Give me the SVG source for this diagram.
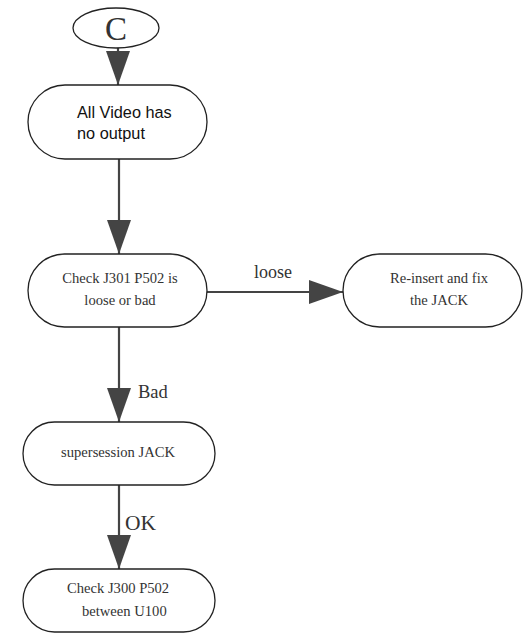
<svg xmlns="http://www.w3.org/2000/svg" width="524" height="634" viewBox="0 0 524 634">
<style>
.node{fill:#fff;stroke:#222;stroke-width:1.3}
.edge{stroke:#444;stroke-width:2.2;fill:none}
.serif{font-family:"Liberation Serif","Times New Roman",serif;fill:#333}
.sans{font-family:"Liberation Sans",Arial,sans-serif;fill:#111}
</style>
<defs>
<marker id="ah" markerUnits="userSpaceOnUse" markerWidth="34" markerHeight="24" viewBox="0 0 34 24" refX="34" refY="12" orient="auto">
<path d="M0,0 L34,12 L0,24 Z" fill="#444"/>
</marker>
</defs>
<rect width="524" height="634" fill="#fff"/>
<g id="connectors">
<line class="edge" x1="118" y1="48" x2="118" y2="85" marker-end="url(#ah)"/>
<line class="edge" x1="119" y1="159" x2="119" y2="254" marker-end="url(#ah)"/>
<line class="edge" x1="207" y1="292" x2="343" y2="292" marker-end="url(#ah)"/>
<line class="edge" x1="119" y1="327" x2="119" y2="422" marker-end="url(#ah)"/>
<line class="edge" x1="119" y1="485" x2="119" y2="569" marker-end="url(#ah)"/>
<text class="serif" x="273" y="278" font-size="18" text-anchor="middle">loose</text>
<text class="serif" x="138" y="398" font-size="18.5">Bad</text>
<text class="serif" x="125" y="530" font-size="21.5">OK</text>
</g>
<g id="nodeC">
<ellipse class="node" cx="116" cy="28" rx="43" ry="20"/>
<text class="serif" x="116" y="40" font-size="33" text-anchor="middle">C</text>
</g>
<g id="node1">
<rect class="node" x="28" y="85" width="179" height="74" rx="37"/>
<text class="sans" x="77" y="118" font-size="16.3">All Video has</text>
<text class="sans" x="77" y="139" font-size="16.3">no output</text>
</g>
<g id="node2">
<rect class="node" x="28" y="254" width="179" height="73" rx="36.5"/>
<text class="serif" x="120" y="283" font-size="14.6" text-anchor="middle">Check J301 P502 is</text>
<text class="serif" x="120" y="305" font-size="14.6" text-anchor="middle">loose or bad</text>
</g>
<g id="node3">
<rect class="node" x="343" y="254" width="179" height="73" rx="36.5"/>
<text class="serif" x="439" y="283" font-size="14.6" text-anchor="middle">Re-insert and fix</text>
<text class="serif" x="439" y="305" font-size="14.6" text-anchor="middle">the JACK</text>
</g>
<g id="node4">
<rect class="node" x="23" y="422" width="192" height="63" rx="31.5"/>
<text class="serif" x="118" y="457" font-size="14.6" text-anchor="middle">supersession JACK</text>
</g>
<g id="node5">
<rect class="node" x="23" y="569" width="192" height="63" rx="31.5"/>
<text class="serif" x="67" y="593" font-size="14.6">Check J300 P502</text>
<text class="serif" x="82" y="616" font-size="14.6">between U100</text>
</g>
</svg>
